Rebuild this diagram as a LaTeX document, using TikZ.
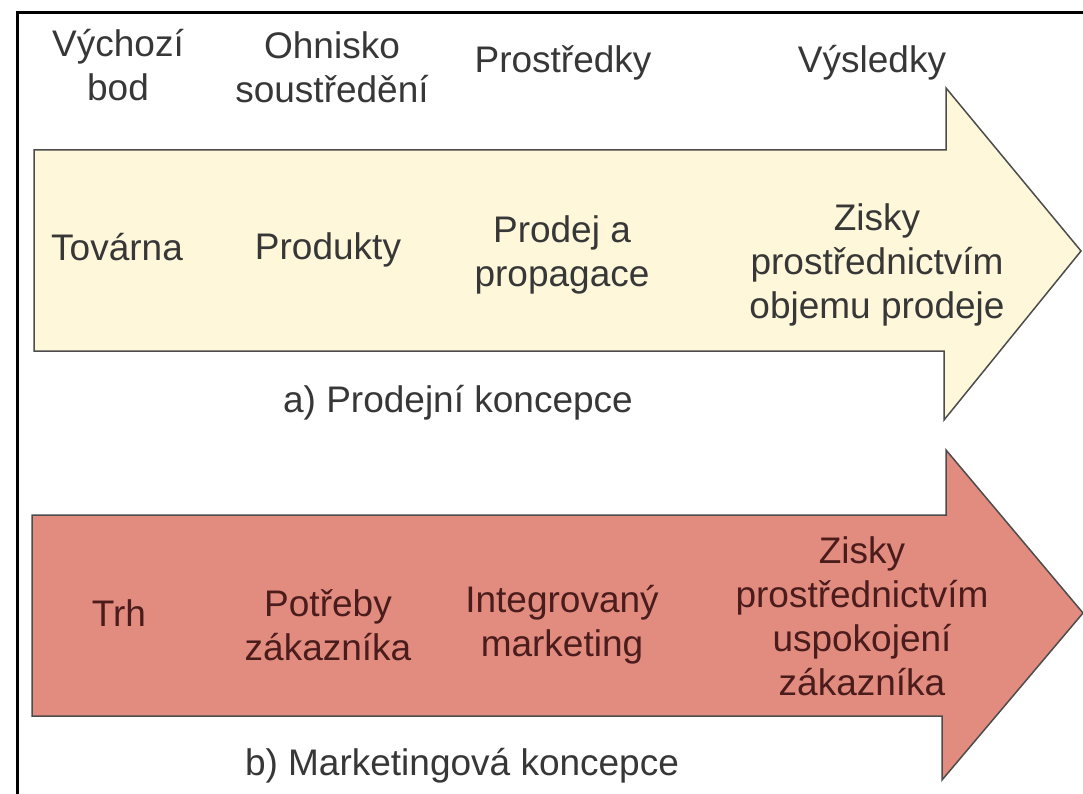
\documentclass[tikz,border=0pt]{standalone}
\usepackage{fontspec}
\setmainfont{Liberation Sans}
\usepackage{tikz}
\usetikzlibrary{
	positioning		% relative placement
}

\definecolor{creamfill}{RGB}{254,247,218}
\definecolor{salmonfill}{RGB}{226,140,128}
\definecolor{inkgray}{RGB}{55,55,55}
\definecolor{inkbrown}{RGB}{75,28,28}
\newcommand{\diagramfont}{\fontsize{37}{44}\selectfont}

\begin{document}
\begin{tikzpicture}[x=1pt, y=-1pt
		, arrowbody/.style={draw=black!70, line width=1.5pt, line join=miter}
		, salesarrow/.style={arrowbody, fill=creamfill}
		, marketarrow/.style={arrowbody, fill=salmonfill}
		, headtext/.style={align=center, text=inkgray, font=\diagramfont}
		, salestext/.style={align=center, text=inkgray, font=\diagramfont}
		, markettext/.style={align=center, text=inkbrown, font=\diagramfont}
		, captiontext/.style={text=inkgray, font=\diagramfont}]

		%%% Page and frame
		\fill[white] (0,0) rectangle (1083,794);
		\useasboundingbox (0,0) rectangle (1083,794);
		\draw[line width=3pt] (17,794) -- (17,13) -- (1083,13);

		%%% Arrows
		%% a) sales arrow
		\draw[salesarrow] (34,150) -- (946,150) -- (946,88) -- (1081,251)
			-- (944,420) -- (944,351) -- (34,351) -- cycle;

		%% b) marketing arrow
		\draw[marketarrow] (32,515) -- (946,515) -- (946,450) -- (1083,613)
			-- (942,780) -- (942,716) -- (32,716) -- cycle;

		%%% Column headers
		\foreach [count=\i] \xpos/\ypos/\txt in {118/65/{Výchozí\\bod}, 332/67/{Ohnisko\\soustředění}, 563/63/{Prostředky}, 872/63/{Výsledky}} {

			% one header above each column
			\node[headtext] (head\i) at (\xpos,\ypos) {\txt};
		};

		%%% Sales concept
		\node[salestext] (factory) at (117,247) {Továrna};
		\node[salestext] (products) at (328,250) {Produkty};
		\node[salestext] (promotion) at (562,255) {Prodej a\\propagace};
		\node[salestext] (volumeprofit) at (877,265) {Zisky\\prostřednictvím\\objemu prodeje};

		%% Caption a)
		\node[captiontext] (salescaption) at (458,403) {a) Prodejní koncepce};

		%%% Marketing concept
		\node[markettext] (market) at (119,613) {Trh};
		\node[markettext] (needs) at (328,625) {Potřeby\\zákazníka};
		\node[markettext] (integrated) at (562,625) {Integrovaný\\marketing};
		\node[markettext] (satisfactionprofit) at (862,616) {Zisky\\prostřednictvím\\uspokojení\\zákazníka};

		%% Caption b)
		\node[captiontext] (marketcaption) at (462,766) {b) Marketingová koncepce};
	\end{tikzpicture}
\end{document}
